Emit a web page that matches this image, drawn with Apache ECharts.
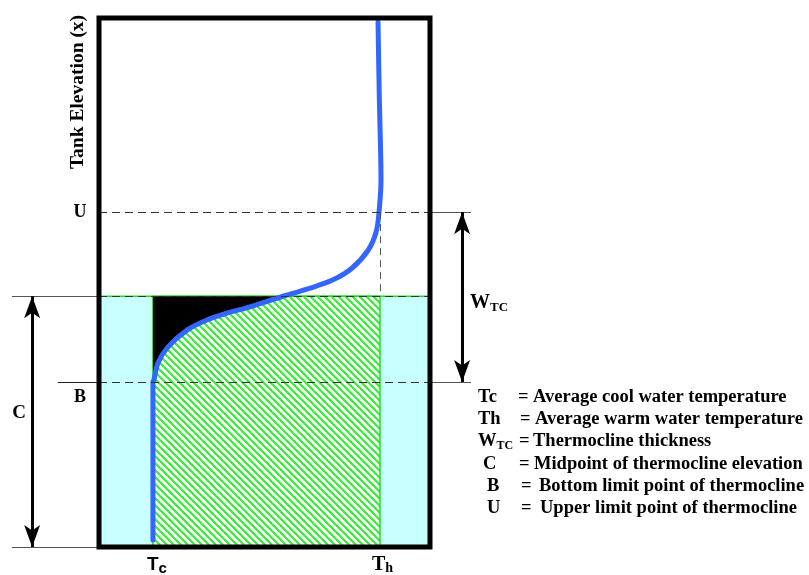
<!DOCTYPE html>
<html><head><meta charset="utf-8">
<script src="https://cdn.jsdelivr.net/npm/echarts@6/dist/echarts.min.js"></script>
<style>html,body{margin:0;background:#fff}#c{width:809px;height:575px}</style>
</head><body><div id="c"></div><script>
// ---------------- data ----------------
const tempNames = ['Tc', 'Th'];
const tempValues = [16.3, 84.9];            // on a 0..100 tank-width temperature scale
const levelNames = ['B', 'C', 'U'];
const levelValues = [31.2, 47.4, 63.3];     // on a 0..100 tank-height elevation scale
const profileTemp = [16.3, 16.3, 16.6, 17.8, 20.8, 26.6, 32.6, 38.7, 45.6, 55.6, 63.1, 70.7, 76.4, 81.3, 83.7, 84.6, 85.2, 85.0, 84.7, 84.3];
const profileElev = [1.3, 31.2, 31.6, 34.8, 37.8, 41.0, 42.9, 44.2, 45.4, 47.4, 48.8, 50.5, 52.7, 56.1, 59.5, 63.3, 69.4, 76.9, 84.5, 99.2];
const legendKeys = ['Tc', 'Th', 'W_TC', 'C', 'B', 'U'];
const legendTexts = ['Average cool water temperature', 'Average warm water temperature', 'Thermocline thickness',
  'Midpoint of thermocline elevation', 'Bottom limit point of thermocline', 'Upper limit point of thermocline'];

// ---------------- layout ----------------
const tankPx = { left: 99, right: 430, top: 18, bottom: 547 };
const W = 809, H = 575;
const pxT = (tankPx.right - tankPx.left) / 100, pxE = (tankPx.bottom - tankPx.top) / 100;
const xMin = -tankPx.left / pxT, xMax = 100 + (W - tankPx.right) / pxT;
const yMin = -(H - tankPx.bottom) / pxE, yMax = 100 + tankPx.top / pxE;
const annot = { cArrowT: -20.2, wArrowT: 109.7, leftLineT: -26.3, bLineT: -12.4, rightLineT: 112.4 };

const Tc = tempValues[0], Th = tempValues[1];
const B = levelValues[0], C = levelValues[1], U = levelValues[2];
const profile = profileTemp.map((t, i) => [t, profileElev[i]]);

function makeHatch() {
  const s = 7, c = document.createElement('canvas');
  c.width = s; c.height = s;
  const g = c.getContext('2d');
  g.fillStyle = '#ffffff'; g.fillRect(0, 0, s, s);
  g.strokeStyle = '#33ee33'; g.lineWidth = 2.2;
  for (let k = -1; k <= 1; k++) { g.beginPath(); g.moveTo(-1, -1 + s * k); g.lineTo(s + 1, s + 1 + s * k); g.stroke(); }
  return c;
}
const hatch = { image: makeHatch(), repeat: 'repeat' };

const rects = [
  [0, 0, 100, C, 'cyan'],
  [Tc, 0, Th, C, 'hatch']
];
// black region: area between Tc wall, C level and the profile
const blackPoly = [[Tc, C]].concat(profile.filter(p => p[1] >= B && p[1] <= C));

const serif = '"Liberation Serif", "Times New Roman", serif';
const sans = '"Liberation Sans", Arial, sans-serif';

const chart = echarts.init(document.getElementById('c'), null, { renderer: 'canvas' });

function rectItem(params, api) {
  const r = rects[params.dataIndex];
  const p1 = api.coord([r[0], r[1]]), p2 = api.coord([r[2], r[3]]);
  const shape = { x: Math.min(p1[0], p2[0]), y: Math.min(p1[1], p2[1]), width: Math.abs(p2[0] - p1[0]), height: Math.abs(p2[1] - p1[1]) };
  const style = r[4] === 'cyan' ? { fill: '#c8ffff', stroke: '#22dd22', lineWidth: 1.5 } : { fill: hatch, stroke: '#22dd22', lineWidth: 1.5 };
  return { type: 'rect', shape, style };
}

const refLine = (a, b, style) => [{ coord: a, lineStyle: style }, { coord: b }];
const grey = { color: '#555', width: 1, type: 'solid' };
const dark = { color: '#222', width: 1.2, type: 'solid' };
const dash = { color: '#333', width: 1.2, type: [8, 5] };

const legendY0 = 397, legendDy = 22.3;
const keyX = [478, 478, 478, 483, 487, 487];
const eqX = [518, 520, 519, 519, 521, 521];
const txtX = [533, 535, 533, 534, 539, 540];
const lf = 'bold 18.5px ' + serif;
const graphics = [];
legendKeys.forEach((k, i) => {
  const y = legendY0 + i * legendDy;
  const txt = k === 'W_TC' ? '{a|W}{s|TC}' : '{a|' + k + '}';
  graphics.push({ type: 'text', x: keyX[i], y, style: { text: txt, textVerticalAlign: 'middle', rich: { a: { font: lf, fill: '#000' }, s: { font: 'bold 12px ' + serif, fill: '#000', padding: [8, 0, 0, 0] } } } });
  graphics.push({ type: 'text', x: eqX[i], y, style: { text: '=', font: lf, fill: '#000', textVerticalAlign: 'middle' } });
  graphics.push({ type: 'text', x: txtX[i], y, style: { text: legendTexts[i], font: lf, fill: '#000', textVerticalAlign: 'middle' } });
});
graphics.push(
  { type: 'text', x: 78, y: 92, rotation: Math.PI / 2, style: { text: 'Tank Elevation (x)', font: 'bold 19.5px ' + serif, fill: '#000', textAlign: 'center', textVerticalAlign: 'middle' } },
  { type: 'text', x: 80, y: 212, style: { text: levelNames[2], font: 'bold 18px ' + serif, fill: '#000', textAlign: 'center', textVerticalAlign: 'middle' } },
  { type: 'text', x: 80, y: 397, style: { text: levelNames[0], font: 'bold 18px ' + serif, fill: '#000', textAlign: 'center', textVerticalAlign: 'middle' } },
  { type: 'text', x: 19, y: 413, style: { text: levelNames[1], font: 'bold 19px ' + serif, fill: '#000', textAlign: 'center', textVerticalAlign: 'middle' } },
  { type: 'text', x: 470, y: 303, style: { text: '{a|W}{s|TC}', textVerticalAlign: 'middle', rich: { a: { font: 'bold 20px ' + serif, fill: '#000' }, s: { font: 'bold 13px ' + serif, fill: '#000', padding: [9, 0, 0, 0] } } } },
  { type: 'text', x: 147, y: 565, style: { text: '{a|T}{s|c}', textVerticalAlign: 'middle', rich: { a: { font: 'bold 19px ' + sans, fill: '#000' }, s: { font: 'bold 15px ' + sans, fill: '#000', padding: [7, 0, 0, 0] } } } },
  { type: 'text', x: 372, y: 565, style: { text: '{a|T}{s|h}', textVerticalAlign: 'middle', rich: { a: { font: 'bold 20px ' + serif, fill: '#000' }, s: { font: 'bold 14px ' + serif, fill: '#000', padding: [7, 0, 0, 0] } } } }
);

chart.setOption({
  animation: false,
  backgroundColor: '#fff',
  grid: { left: 0, right: 0, top: 0, bottom: 0 },
  xAxis: { type: 'value', min: xMin, max: xMax, show: false },
  yAxis: { type: 'value', min: yMin, max: yMax, show: false },
  graphic: graphics,
  series: [
    { type: 'custom', name: 'fills', z: 1, clip: false, data: rects.map(r => [r[0], r[1], r[2], r[3]]), renderItem: rectItem, silent: true },
    { type: 'custom', name: 'black', z: 2, clip: false, data: [0], silent: true,
      renderItem: (params, api) => ({ type: 'polygon', shape: { points: blackPoly.map(p => api.coord(p)), smooth: 0 }, style: { fill: '#000' } }) },
    { type: 'line', name: 'refs', z: 3, data: [], silent: true, clip: false,
      markLine: { silent: true, symbol: 'none', label: { show: false }, animation: false,
        data: [
          refLine([annot.leftLineT, C], [0, C], grey),
          refLine([annot.leftLineT, 0], [0, 0], grey),
          refLine([annot.bLineT, B], [0, B], dark),
          refLine([0, B], [100, B], dash),
          refLine([0, U], [100, U], dash),
          refLine([0, C], [100, C], dash),
          refLine([100, U], [annot.rightLineT, U], grey),
          refLine([100, B], [annot.rightLineT, B], grey),
          refLine([Th, U], [Th, C], { color: '#555', width: 1, type: [7, 5] })
        ] } },
    { type: 'line', name: 'arrows', z: 3, data: [], silent: true, clip: false,
      markLine: { silent: true, symbol: ['arrow', 'arrow'], symbolSize: [12, 22], label: { show: false }, animation: false,
        lineStyle: { color: '#000', width: 3, type: 'solid' },
        data: [
          [{ coord: [annot.cArrowT, C] }, { coord: [annot.cArrowT, 0] }],
          [{ coord: [annot.wArrowT, U] }, { coord: [annot.wArrowT, B] }]
        ] } },
    { type: 'line', name: 'profile', z: 4, data: profile, smooth: 0.35, symbol: 'none', clip: false,
      lineStyle: { color: '#3366ff', width: 5, cap: 'round' } },
    { type: 'custom', name: 'tank', z: 5, clip: false, data: [0], silent: true,
      renderItem: (params, api) => {
        const p1 = api.coord([0, 0]), p2 = api.coord([100, 100]);
        return { type: 'rect', shape: { x: p1[0], y: p2[1], width: p2[0] - p1[0], height: p1[1] - p2[1] }, style: { fill: 'none', stroke: '#000', lineWidth: 5 } };
      } }
  ]
});
</script></body></html>
